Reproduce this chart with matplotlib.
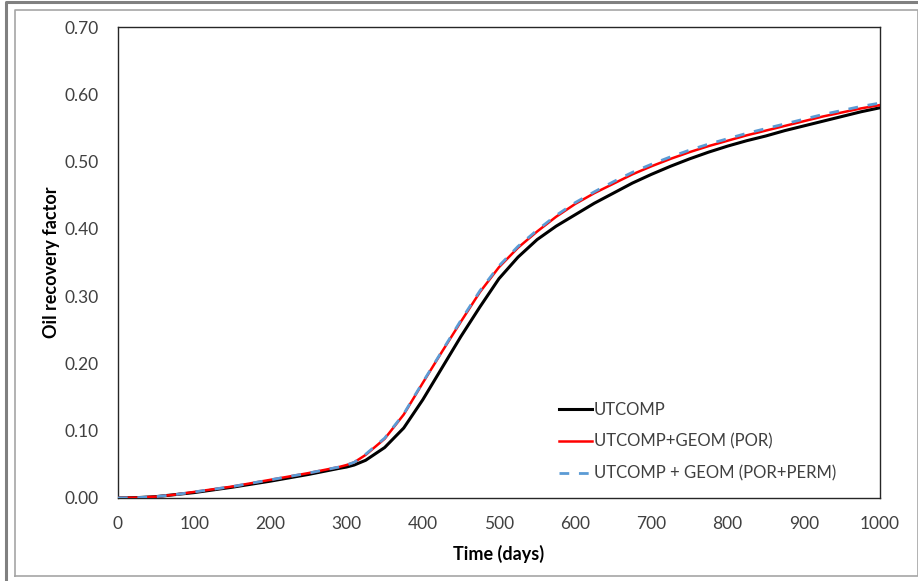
import matplotlib.pyplot as plt
from matplotlib.lines import Line2D

days = [0, 25, 50, 75, 100, 150, 200, 250, 290, 300, 310, 325, 350, 375, 400, 425,
        450, 475, 500, 525, 550, 575, 600, 625, 650, 675, 700, 725, 750, 775, 800,
        825, 850, 875, 900, 925, 950, 975, 1000]
utcomp = [0.0, 0.0005, 0.002, 0.005, 0.008, 0.016, 0.025, 0.035, 0.044, 0.046, 0.049,
          0.056, 0.075, 0.104, 0.146, 0.193, 0.240, 0.284, 0.326, 0.358, 0.384,
          0.404, 0.421, 0.438, 0.453, 0.468, 0.481, 0.493, 0.504, 0.514, 0.523,
          0.531, 0.538, 0.546, 0.553, 0.560, 0.567, 0.574, 0.580]
geom_por = [0.0, 0.0005, 0.002, 0.005, 0.009, 0.017, 0.027, 0.037, 0.046, 0.049, 0.053,
            0.064, 0.088, 0.124, 0.171, 0.217, 0.262, 0.306, 0.343, 0.372, 0.396,
            0.418, 0.437, 0.453, 0.467, 0.481, 0.493, 0.504, 0.514, 0.523, 0.531,
            0.539, 0.546, 0.553, 0.560, 0.567, 0.573, 0.579, 0.584]
geom_por_perm = [0.0, 0.0005, 0.002, 0.005, 0.009, 0.017, 0.027, 0.037, 0.046, 0.049, 0.053,
                 0.065, 0.089, 0.125, 0.172, 0.218, 0.264, 0.308, 0.345, 0.374, 0.398,
                 0.420, 0.439, 0.455, 0.470, 0.484, 0.496, 0.507, 0.517, 0.526, 0.534,
                 0.542, 0.549, 0.556, 0.563, 0.570, 0.576, 0.582, 0.587]

labels = ['UTCOMP', 'UTCOMP+GEOM (POR)', 'UTCOMP + GEOM (POR+PERM)']
yticks = [0.0, 0.1, 0.2, 0.3, 0.4, 0.5, 0.6, 0.7]
xticks = [0, 100, 200, 300, 400, 500, 600, 700, 800, 900, 1000]

plt.rcParams['font.family'] = ['Lato', 'DejaVu Sans']
text_color = '#404040'

fig = plt.figure(figsize=(9.18, 5.81), dpi=100)

# screenshot frame lines
fig.add_artist(Line2D([0.006, 0.006, 1.0], [0.0, 0.997, 0.997], color='#808080',
                      lw=2.2, transform=fig.transFigure))
fig.add_artist(Line2D([0.016, 0.016, 1.0, 1.0, 0.016], [0.009, 0.983, 0.983, 0.009, 0.009],
                      color='#a6a6a6', lw=1.2, transform=fig.transFigure))

ax = fig.add_axes([0.1285, 0.1429, 0.8301, 0.8106])
ax.plot(days, utcomp, color='black', lw=2.2, label=labels[0], zorder=3)
ax.plot(days, geom_por, color='#ff0000', lw=1.8, label=labels[1], zorder=4)
ax.plot(days, geom_por_perm, color='#5b9bd5', lw=2.0, ls=(0, (3.5, 3.5)),
        label=labels[2], zorder=5)

ax.set_xlim(0, 1000)
ax.set_ylim(0, 0.7)
ax.set_xticks(xticks)
ax.set_yticks(yticks)
ax.set_xticklabels([str(v) for v in xticks])
ax.set_yticklabels(['%.2f' % v for v in yticks])
ax.tick_params(length=0, labelsize=12.5, labelcolor=text_color)
ax.tick_params(axis='x', pad=13)
ax.tick_params(axis='y', pad=14)
for s in ax.spines.values():
    s.set_color('#262626')
    s.set_linewidth(1.0)

ax.set_xlabel('Time (days)', fontsize=13, fontweight='bold', labelpad=9)
ax.set_ylabel('Oil recovery factor', fontsize=13, fontweight='bold', labelpad=3)

ax.legend(loc='lower right', bbox_to_anchor=(0.962, 0.003), frameon=False,
          fontsize=12, handlelength=2.0, handletextpad=0.1, labelspacing=0.95,
          labelcolor=text_color)

fig.savefig('out.png', dpi=100)
